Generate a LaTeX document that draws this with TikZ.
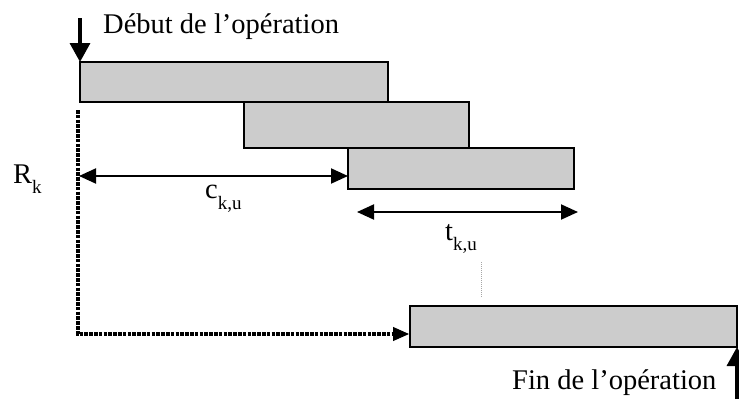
\documentclass[tikz,border=0pt]{standalone}
\usepackage{fontspec}
\setmainfont{Liberation Serif}
\usetikzlibrary{arrows.meta}
\definecolor{barfill}{RGB}{204,204,204}
\newcommand\lowsub[2]{\raisebox{-#1}{\fontsize{19}{19}\selectfont #2}}
\begin{document}
\begin{tikzpicture}[x=1pt,y=-1pt,
  bar/.style={draw=black,fill=barfill,line width=1.6pt,inner sep=0pt,outer sep=0pt,anchor=north west},
  lbl/.style={font=\fontsize{28.5}{34}\selectfont,inner sep=0pt},
  arr/.style={line width=3.5pt,-{Triangle[length=19pt,width=20pt]}},
  darr/.style={line width=2pt,{Triangle[length=17pt,width=15pt]}-{Triangle[length=17pt,width=15pt]}},
  dots/.style={line width=3.2pt,dash pattern=on 3.5pt off 1.3pt}]
\useasboundingbox (0,0) rectangle (739,399);
% bars
\node[bar,minimum width=308pt,minimum height=40pt] (b1) at (80,62) {};
\node[bar,minimum width=225pt,minimum height=46pt] (b2) at (244,102) {};
\node[bar,minimum width=226pt,minimum height=41pt] (b3) at (348,148) {};
\node[bar,minimum width=327pt,minimum height=41pt] (b4) at (410,306) {};
% labels
\node[lbl,anchor=base west] (deb) at (103,33) {Début de l’opération};
\node[lbl,anchor=base west] (fin) at (512,389) {Fin de l’opération};
\node[lbl,anchor=base west] (rk) at (13,183) {R\lowsub{10pt}{k}};
\node[lbl,anchor=base west] (cku) at (205,198) {c\lowsub{11pt}{k,u}};
\node[lbl,anchor=base west] (tku) at (445,240) {t\lowsub{10pt}{k,u}};
% start arrow
\coordinate (s0) at (80,18);
\draw[arr] (s0) -- (b1.north west);
% c arrow
\coordinate (c0) at (79,176);
\coordinate (c1) at (348,176);
\draw[darr] (c0) -- (c1);
% t arrow
\coordinate (t0) at (357,212);
\coordinate (t1) at (578,212);
\draw[darr] (t0) -- (t1);
% faint dotted mark
\coordinate (f0) at (481,262);
\coordinate (f1) at (481,298);
\draw[black!35,line width=1pt,dash pattern=on 1pt off 1pt] (f0) -- (f1);
% dotted path R_k
\coordinate (d0) at (78,110);
\coordinate (d1) at (78,334);
\coordinate (d2) at (393,334);
\coordinate (d3) at (409,334);
\draw[dots] (d0) -- (d1) -- (d2);
\draw[line width=1pt,-{Triangle[length=16pt,width=14pt]}] (d2) -- (d3);
% end arrow
\coordinate (e0) at (737,399);
\draw[arr] (e0) -- (b4.south east);
\end{tikzpicture}
\end{document}
